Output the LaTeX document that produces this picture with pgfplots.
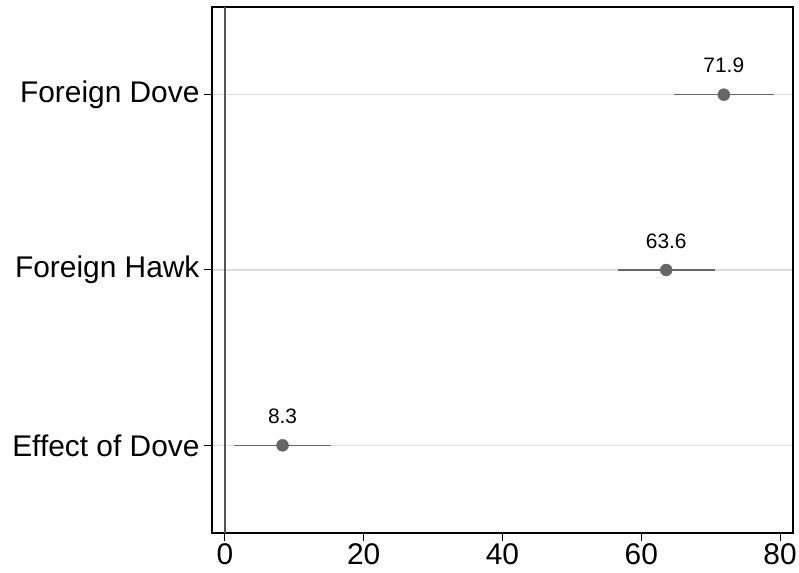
\documentclass[border=0pt]{standalone}
\usepackage{fontspec}
\setmainfont{Liberation Sans}
\usepackage{pgfplots}
\pgfplotsset{compat=1.18}
\usepackage{pgfplotstable}
\usetikzlibrary{calc}

\definecolor{dotgray}{HTML}{666666}
\definecolor{gridgray}{HTML}{DDDDDD}
\definecolor{zerogray}{HTML}{555555}

% estimate, half-width of interval, label
\pgfplotstableread{
y x err lab
3 71.9 7.2 71.9
2 63.6 7.0 63.6
1 8.3 7.0 8.3
}\estimates

\begin{document}
\begin{tikzpicture}
\begin{axis}[
  scale only axis,
  width=581bp, height=526bp,
  xmin=-1.87, xmax=81.87,
  ymin=0.5, ymax=3.5,
  xtick={0,20,40,60,80},
  ytick={1,2,3},
  yticklabels={Effect of Dove, Foreign Hawk, Foreign Dove},
  tick pos=left,
  tick align=outside,
  major tick length=8bp,
  tick style={black, line width=1bp},
  axis line style={black, line width=1.6bp},
  ymajorgrids,
  grid style={gridgray, line width=1.2bp},
  tick label style={font=\fontsize{30}{32}\selectfont},
  yticklabel style={xshift=-1bp},
  xticklabel style={yshift=1bp},
  /pgf/number format/assume math mode=true,
  clip=false,
]
% reference line at zero
\addplot[zerogray, line width=2bp] coordinates {(0,0.5) (0,3.5)};

\addplot[
  only marks,
  mark=*, mark size=6bp,
  mark options={fill=dotgray, draw=dotgray},
  error bars/.cd,
    x dir=both, x explicit,
    error mark=none,
    error bar style={dotgray, line width=1.6bp},
] table[x=x, y=y, x error=err] {\estimates};

\addplot[
  only marks, mark=none,
  point meta=explicit symbolic,
  nodes near coords,
  nodes near coords style={anchor=center, yshift=29bp,
    font=\fontsize{21}{24}\selectfont, text=black},
] table[x=x, y=y, meta=lab] {\estimates};
\end{axis}
\pgfresetboundingbox
\useasboundingbox ($(current axis.south west)+(-212bp,-40bp)$) rectangle ($(current axis.north east)+(6bp,7bp)$);
\end{tikzpicture}
\end{document}
